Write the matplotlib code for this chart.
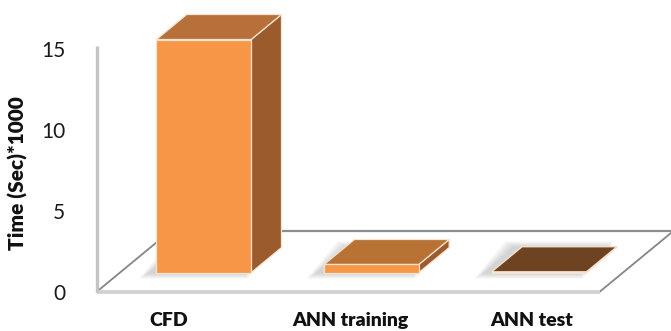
import matplotlib
matplotlib.use("Agg")
import matplotlib.pyplot as plt
import numpy as np

# Data
categories = ["CFD", "ANN training", "ANN test"]
times = [14.4, 0.5, 0.05]          # Time (Sec)*1000
yticks = [0, 5, 10, 15]

# Styling
front_color = "#F79646"
side_color = "#9C5B2C"
top_colors = ["#B8703A", "#B87234", "#6E4321"]
edge_light = "#F6E4D2"

plt.rcParams["font.family"] = ["Lato", "DejaVu Sans"]

W, H = 671, 331
fig = plt.figure(figsize=(W / 100, H / 100), dpi=100)
fig.patch.set_facecolor("white")

# axes box = floor front edge (x) and value scale (y), in pixels
x0_px, x1_px = 97, 600
y0_px, y15_px = 291.5, 48.7
ax = fig.add_axes([x0_px / W, (H - y0_px) / H,
                   (x1_px - x0_px) / W, (y0_px - y15_px) / H])
ax.set_xlim(0, 3)
ax.set_ylim(0, 15)
for s in ax.spines.values():
    s.set_visible(False)
ax.set_facecolor("none")

# pixel -> data unit scale factors
ux = (x1_px - x0_px) / 3.0
uy = (y0_px - y15_px) / 15.0

# floor depth vector (oblique projection), in data units
depth_dx = 74 / ux
depth_dy = 61 / uy


def proj(x, y, d):
    """Project point at category x, value y and depth fraction d."""
    return x + d * depth_dx, y + d * depth_dy


def poly(pts, **kw):
    xs = [p[0] for p in pts]
    ys = [p[1] for p in pts]
    ax.fill(xs, ys, clip_on=False, **kw)


# Floor
floor = [proj(0, 0, 0), proj(3, 0, 0), proj(3, 0, 1), proj(0, 0, 1)]
poly(floor, facecolor="white", edgecolor="none", zorder=1)
# back edge of floor continues to the right border
bx, by = proj(0, 0, 1)
ax.plot([bx, 3.6], [by, by], color="#8C8C8C", lw=1.6, clip_on=False, zorder=2)
# side edges
for cx in (0, 3):
    p0 = proj(cx, 0, 0)
    p1 = proj(cx, 0, 1)
    ax.plot([p0[0], p1[0]], [p0[1], p1[1]], color="#858585", lw=1.3,
            clip_on=False, zorder=2)
# front edge of floor
ax.plot([0, 3], [0, 0], color="#D2D2D2", lw=2.8, clip_on=False, zorder=3,
        solid_capstyle="butt")
# value axis line
ax.plot([0, 0], [0, 15.15], color="#C4C4C4", lw=2.4, clip_on=False, zorder=3,
        solid_capstyle="butt")

# Bars
bar_w = 0.565
d_front, d_back = 0.31, 0.72
for i, v in enumerate(times):
    xl = i + 0.5 - bar_w / 2
    xr = i + 0.5 + bar_w / 2
    # soft shadow on the floor, to the left of each bar
    for k in range(5):
        grow = (k + 1) * 2.0
        sx = -7 / ux
        foot = [proj(xl + sx - grow / ux, -grow / uy * 0.6, d_front),
                proj(xr + sx + grow / ux * 0.3, -grow / uy * 0.6, d_front),
                proj(xr + sx + grow / ux * 0.3, grow / uy * 0.6, d_back),
                proj(xl + sx - grow / ux, grow / uy * 0.6, d_back)]
        poly(foot, facecolor="#7A7A7A", alpha=0.07, edgecolor="none", zorder=4)

    fbl = proj(xl, 0, d_front)
    fbr = proj(xr, 0, d_front)
    ftl = proj(xl, v, d_front)
    ftr = proj(xr, v, d_front)
    btl = proj(xl, v, d_back)
    btr = proj(xr, v, d_back)
    bbr = proj(xr, 0, d_back)
    poly([fbr, bbr, btr, ftr], facecolor=side_color, edgecolor=edge_light,
         lw=0.9, zorder=5 + i)
    poly([ftl, ftr, btr, btl], facecolor=top_colors[i], edgecolor=edge_light,
         lw=0.9, zorder=5 + i)
    poly([fbl, fbr, ftr, ftl], facecolor=front_color, edgecolor=edge_light,
         lw=0.9, zorder=5 + i)

# Value axis ticks and label
ax.set_yticks(yticks)
ax.set_yticklabels([str(t) for t in yticks], fontsize=15, color="#1a1a1a")
ax.tick_params(axis="y", length=0, pad=23)
ax.set_xticks([])
ax.set_ylabel("Time (Sec)*1000", fontsize=15, fontweight="heavy",
              color="#111111", labelpad=0)
ax.yaxis.set_label_coords(-69 / (x1_px - x0_px), (y0_px - 173) / (y0_px - y15_px))

# Category labels along the floor front
centers = np.arange(len(categories)) + 0.5
label_x = 1.5 + (centers - 1.5) * 1.085
for lx, name in zip(label_x, categories):
    ax.text(lx + 0.01, -34.5 / uy, name, ha="center", va="baseline",
            fontsize=14, fontweight="heavy", color="#111111", clip_on=False)

fig.savefig("out.png", dpi=100, facecolor="white")
